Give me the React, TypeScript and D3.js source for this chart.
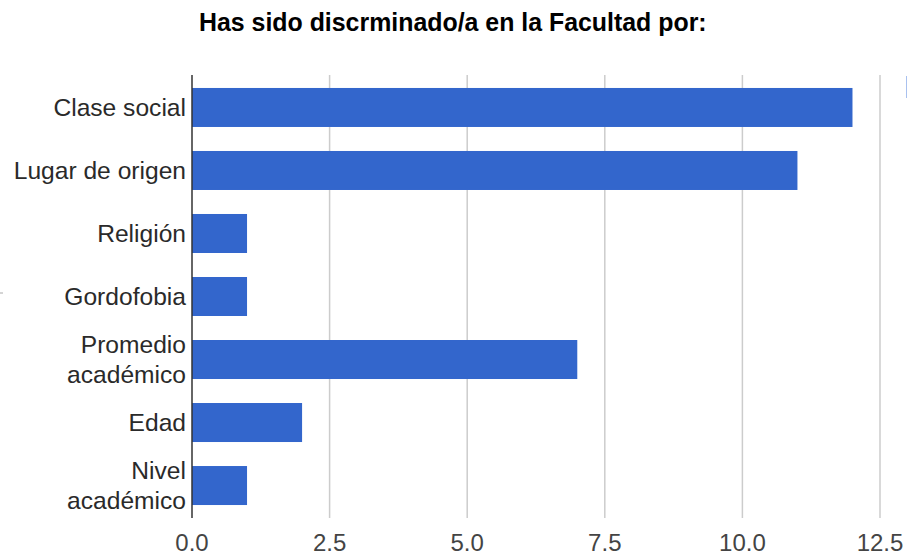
import React from "react";
import * as d3 from "d3";

const title = "Has sido discrminado/a en la Facultad por:";
const categories: string[][] = [
  ["Clase social"],
  ["Lugar de origen"],
  ["Religión"],
  ["Gordofobia"],
  ["Promedio", "académico"],
  ["Edad"],
  ["Nivel", "académico"],
];
const values = [12, 11, 1, 1, 7, 2, 1];
const ticks = [0, 2.5, 5, 7.5, 10, 12.5];

const W = 907;
const H = 557;
const left = 192;
const right = 880;
const top = 76;
const bottom = 517;

export default function App() {
  const x = d3.scaleLinear().domain([0, 12.5]).range([left, right]);
  const y = d3
    .scaleBand<number>()
    .domain(d3.range(categories.length))
    .range([top, bottom])
    .paddingInner(0.381)
    .paddingOuter(0.19);
  const fmt = d3.format(".1f");
  const labelFont = "'Liberation Sans', Arial, sans-serif";
  const fs = 24.6;
  const lh = 30;
  return (
    <svg
      width={W}
      height={H}
      style={{ position: "absolute", left: 0, top: 0, background: "#fff" }}
    >
      <rect x={0} y={0} width={W} height={H} fill="#fff" />
      <text
        x={199}
        y={31}
        fontFamily="'Liberation Sans', Arial, sans-serif"
        fontWeight="bold"
        fontSize={24.9}
        fill="#000"
      >
        {title}
      </text>
      {ticks.slice(1).map((t) => (
        <line
          key={"g" + t}
          x1={x(t)}
          x2={x(t)}
          y1={75}
          y2={518}
          stroke="#cccccc"
          strokeWidth={1.5}
        />
      ))}
      {values.map((v, i) => (
        <rect
          key={"b" + i}
          x={x(0)}
          y={y(i)!}
          width={x(v) - x(0)}
          height={y.bandwidth()}
          fill="#3366cc"
        />
      ))}
      <line x1={x(0)} x2={x(0)} y1={75} y2={518} stroke="#333" strokeWidth={1.5} />
      {categories.map((lines, i) => {
        const cy = y(i)! + y.bandwidth() / 2;
        const n = lines.length;
        return (
          <text
            key={"l" + i}
            textAnchor="end"
            fontFamily={labelFont}
            fontSize={fs}
            fill="#2a2a2a"
          >
            {lines.map((ln, j) => (
              <tspan
                key={j}
                x={186}
                y={cy + (j - (n - 1) / 2) * lh}
                dy="0.36em"
              >
                {ln}
              </tspan>
            ))}
          </text>
        );
      })}
      {ticks.map((t) => (
        <text
          key={"t" + t}
          x={x(t)}
          y={551}
          textAnchor="middle"
          fontFamily={labelFont}
          fontSize={24}
          fill="#444"
        >
          {fmt(t)}
        </text>
      ))}
      <rect x={906} y={76} width={1} height={22} fill="#a9c1ef" />
      <line x1={0} x2={3} y1={293} y2={293} stroke="#aaa" strokeWidth={1} />
    </svg>
  );
}
